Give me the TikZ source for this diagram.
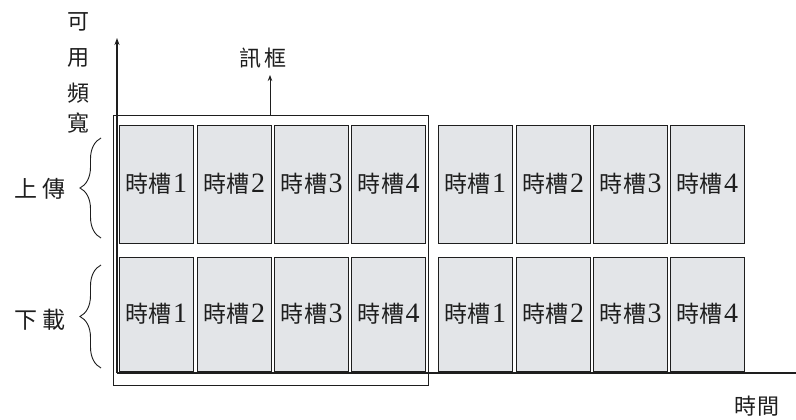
\documentclass[tikz,border=0pt]{standalone}
\usepackage{fontspec}
\setmainfont{Liberation Serif}
\newfontfamily\cjk{Noto Sans CJK TC}
\usetikzlibrary{decorations.pathreplacing,arrows.meta}
\definecolor{cellgray}{HTML}{E3E5E8}
\definecolor{ink}{HTML}{1E1E1E}
\tikzset{
  slot/.style={draw=ink, fill=cellgray, line width=0.9pt, minimum width=74pt,
    inner sep=0pt, text=ink, font=\fontsize{23pt}{23pt}\selectfont},
  framebox/.style={draw=ink, line width=1pt, minimum width=315pt, minimum height=269pt, inner sep=0pt},
  axis/.style={draw=ink, line width=1.6pt},
  lbl/.style={text=ink, inner sep=0pt, font=\fontsize{22pt}{22pt}\selectfont\cjk},
  bracestyle/.style={draw=ink, line width=0.9pt, decorate, decoration={brace, amplitude=21pt, aspect=0.5}},
}
\newcommand{\slottext}[1]{{\cjk 時\kern1pt 槽}\kern1pt{\fontsize{28pt}{28pt}\selectfont #1}}
\begin{document}
\begin{tikzpicture}[x=1pt,y=-1pt]
\useasboundingbox[fill=white] (0,0) rectangle (796,420);
% slots
\foreach \c/\x/\n in {1/156/1,2/234/2,3/311.5/3,4/388.5/4,5/475/1,6/553/2,7/630.5/3,8/707/4}{
  \node[slot, minimum height=118pt] (u\c) at (\x,184) {\slottext{\n}};
  \node[slot, minimum height=114pt] (d\c) at (\x,314) {\slottext{\n}};
}
% frame
\node[framebox] (frame) at (270.5,250.5) {};
% axes
\coordinate (origin) at (117,373);
\coordinate (ytip) at (117,38);
\coordinate (xend) at (796,373);
\draw[axis, -{Stealth[length=7pt,width=5pt]}] (origin) -- (ytip);
\draw[axis] (origin) -- (xend);
% labels
\node[lbl] (ylab1) at (78,22) {可};
\node[lbl] (ylab2) at (78,58) {用};
\node[lbl] (ylab3) at (78,93) {頻};
\node[lbl] (ylab4) at (78,123) {寬};
\node[lbl] (framelab) at (263,58) {訊\kern3pt 框};
\draw[draw=ink, line width=0.9pt, -{Stealth[length=6pt,width=4.5pt]}] (frame.north -| 270,0) coordinate (fa) (fa) -- (270,75) coordinate (fb);
\node[lbl, font=\fontsize{23pt}{23pt}\selectfont\cjk] (up) at (40,189) {上\kern5pt 傳};
\node[lbl, font=\fontsize{23pt}{23pt}\selectfont\cjk] (down) at (40,320) {下\kern5pt 載};
\node[lbl] (time) at (757,406) {時\kern2pt 間};
% braces
\coordinate (ub1) at (101,238);
\coordinate (ub2) at (101,138);
\coordinate (db1) at (101,368);
\coordinate (db2) at (101,265);
\draw[bracestyle] (ub1) -- (ub2);
\draw[bracestyle] (db1) -- (db2);
\end{tikzpicture}
\end{document}
